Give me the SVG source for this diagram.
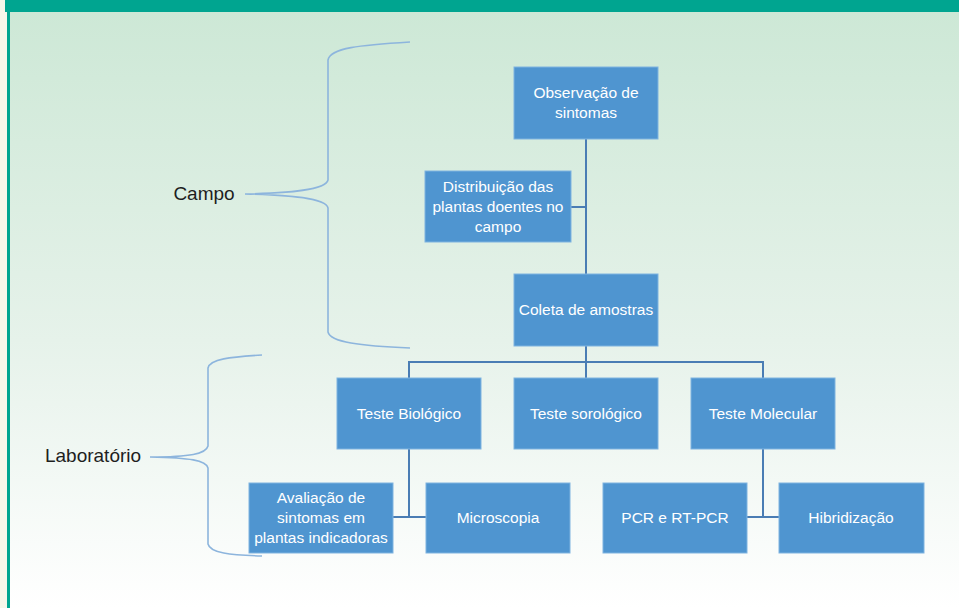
<svg xmlns="http://www.w3.org/2000/svg" width="959" height="608" viewBox="0 0 959 608">
<defs>
<linearGradient id="bg" x1="0" y1="0" x2="0" y2="1">
<stop offset="0" stop-color="#CDE8D6"/>
<stop offset="0.55" stop-color="#E6F2EA"/>
<stop offset="1" stop-color="#FFFFFF"/>
</linearGradient>
<style>
.box{fill:#4F95D0;stroke:#7FB3E0;stroke-width:1}
.bt{font-family:"Liberation Sans",Arial,sans-serif;font-size:15.5px;fill:#FFFFFF;text-anchor:middle}
.lbl{font-family:"Liberation Sans",Arial,sans-serif;font-size:19px;fill:#1E1E1E;text-anchor:middle}
.con{fill:none;stroke:#4A7DB4;stroke-width:2}
.brace{fill:none;stroke:#8DB5DD;stroke-width:1.6}
</style>
</defs>
<rect x="0" y="0" width="959" height="608" fill="#F6F7EA"/>
<rect x="9" y="12" width="950" height="596" fill="url(#bg)"/>
<rect x="5" y="0" width="954" height="12" fill="#00A590"/>
<rect x="7" y="12" width="3" height="596" fill="#00A590"/>

<g id="braces">
<path class="brace" d="M410,42 C360,45 330,48 328,60 L328,180 C326,190 290,193 245,194 C290,195 326,198 328,208 L328,332 C330,342 360,346 410,348"/>
<path class="brace" d="M262,355 C230,357 210,359 208,368 L208,446 C206,454 190,457 150,457 C190,458 206,460 208,468 L208,544 C210,553 230,555 262,556"/>
</g>

<g id="labels">
<text class="lbl" x="204" y="200">Campo</text>
<text class="lbl" x="93" y="462">Laboratório</text>
</g>

<g id="connectors">
<path class="con" d="M586,139 V274"/>
<path class="con" d="M571,207 H586"/>
<path class="con" d="M586,346 V362"/>
<path class="con" d="M409,378 V362 H763 V378"/>
<path class="con" d="M586,362 V378"/>
<path class="con" d="M409,449 V517"/>
<path class="con" d="M393,517 H426"/>
<path class="con" d="M763,449 V517"/>
<path class="con" d="M747,517 H779"/>
</g>

<g id="observacao">
<rect class="box" x="514" y="67" width="144" height="72"/>
<text class="bt" x="586" y="98">Observação de</text>
<text class="bt" x="586" y="118">sintomas</text>
</g>
<g id="distribuicao">
<rect class="box" x="425" y="171" width="146" height="71"/>
<text class="bt" x="498" y="192">Distribuição das</text>
<text class="bt" x="498" y="212">plantas doentes no</text>
<text class="bt" x="498" y="232">campo</text>
</g>
<g id="coleta">
<rect class="box" x="514" y="274" width="144" height="72"/>
<text class="bt" x="586" y="315">Coleta de amostras</text>
</g>
<g id="biologico">
<rect class="box" x="337" y="378" width="144" height="71"/>
<text class="bt" x="409" y="419">Teste Biológico</text>
</g>
<g id="sorologico">
<rect class="box" x="514" y="378" width="144" height="71"/>
<text class="bt" x="586" y="419">Teste sorológico</text>
</g>
<g id="molecular">
<rect class="box" x="691" y="378" width="144" height="71"/>
<text class="bt" x="763" y="419">Teste Molecular</text>
</g>
<g id="avaliacao">
<rect class="box" x="249" y="483" width="144" height="70"/>
<text class="bt" x="321" y="503">Avaliação de</text>
<text class="bt" x="321" y="523">sintomas em</text>
<text class="bt" x="321" y="543">plantas indicadoras</text>
</g>
<g id="microscopia">
<rect class="box" x="426" y="483" width="144" height="70"/>
<text class="bt" x="498" y="523">Microscopia</text>
</g>
<g id="pcr">
<rect class="box" x="603" y="483" width="144" height="70"/>
<text class="bt" x="675" y="523">PCR e RT-PCR</text>
</g>
<g id="hibridizacao">
<rect class="box" x="779" y="483" width="145" height="70"/>
<text class="bt" x="851" y="523">Hibridização</text>
</g>
</svg>
